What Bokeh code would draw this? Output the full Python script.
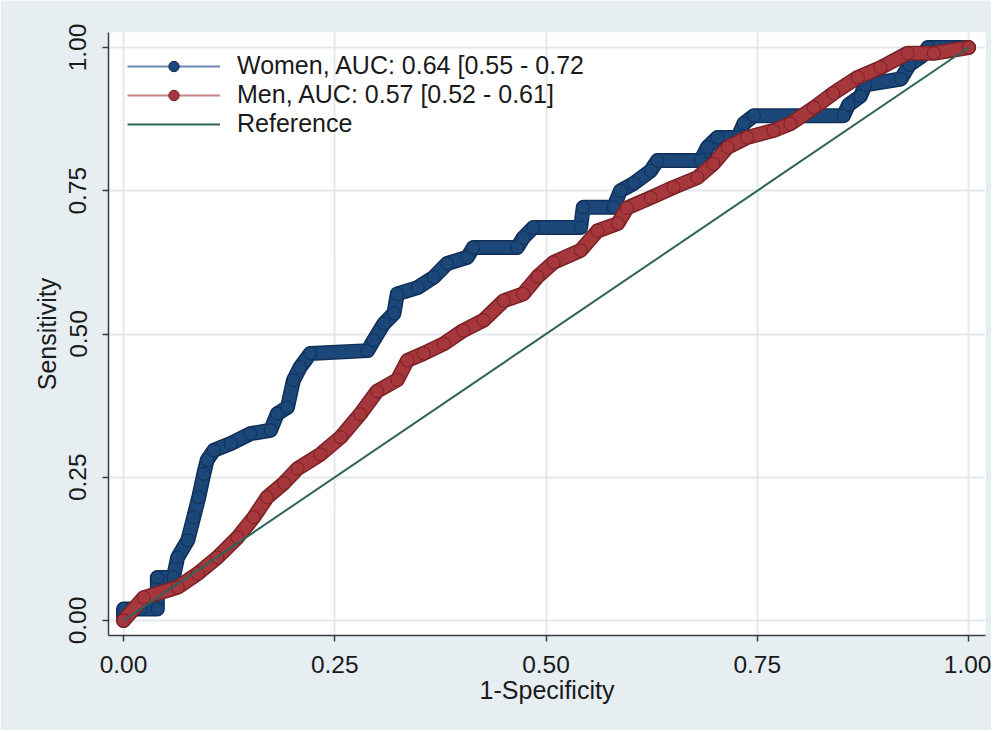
from bokeh.plotting import figure
from bokeh.models import Range1d, FixedTicker, Legend, LegendItem, NumeralTickFormatter
from bokeh.embed import file_html
from bokeh.resources import INLINE

# ---- data ----
women_fpr = [0.0, 0.0, 0.02, 0.04, 0.04, 0.059, 0.064, 0.076, 0.083, 0.089, 0.095, 0.099,
             0.107, 0.127, 0.15, 0.174, 0.182, 0.194, 0.201, 0.209, 0.221, 0.289, 0.296,
             0.308, 0.32, 0.324, 0.348, 0.367, 0.383, 0.407, 0.414, 0.466, 0.473, 0.485,
             0.541, 0.544, 0.58, 0.588, 0.604, 0.624, 0.632, 0.683, 0.691, 0.703, 0.727,
             0.734, 0.746, 0.852, 0.858, 0.872, 0.878, 0.92, 0.93, 0.945, 0.952, 1.0]
women_tpr = [0.0, 0.02, 0.02, 0.02, 0.075, 0.075, 0.11, 0.14, 0.18, 0.215, 0.256, 0.28,
             0.297, 0.309, 0.326, 0.332, 0.361, 0.372, 0.419, 0.442, 0.466, 0.471, 0.489,
             0.518, 0.536, 0.57, 0.581, 0.599, 0.623, 0.634, 0.651, 0.651, 0.668, 0.686,
             0.686, 0.721, 0.721, 0.75, 0.763, 0.785, 0.803, 0.803, 0.826, 0.843, 0.843,
             0.867, 0.881, 0.881, 0.90, 0.915, 0.935, 0.945, 0.97, 0.985, 1.0, 1.0]

men_fpr = [0.0, 0.024, 0.064, 0.088, 0.111, 0.135, 0.154, 0.17, 0.19, 0.206, 0.233, 0.257,
           0.28, 0.30, 0.324, 0.336, 0.355, 0.379, 0.402, 0.426, 0.45, 0.473, 0.49, 0.509,
           0.541, 0.561, 0.585, 0.596, 0.624, 0.651, 0.679, 0.698, 0.715, 0.738, 0.769,
           0.789, 0.817, 0.84, 0.869, 0.896, 0.928, 0.959, 1.0]
men_tpr = [0.0, 0.04, 0.058, 0.082, 0.11, 0.145, 0.18, 0.215, 0.24, 0.265, 0.29, 0.32,
           0.36, 0.40, 0.42, 0.454, 0.466, 0.483, 0.506, 0.524, 0.558, 0.57, 0.60, 0.625,
           0.646, 0.68, 0.693, 0.72, 0.738, 0.756, 0.773, 0.797, 0.826, 0.843, 0.855,
           0.867, 0.895, 0.92, 0.948, 0.965, 0.99, 0.99, 1.0]

ref_x = [0.0, 1.0]
ref_y = [0.0, 1.0]

ticks = [0.0, 0.25, 0.5, 0.75, 1.0]
labels = ["Women, AUC: 0.64 [0.55 - 0.72", "Men, AUC: 0.57 [0.52 - 0.61]", "Reference"]

FONT = "Liberation Sans"
BG = "#e7eef1"

p = figure(width=991, height=730, output_backend="svg", toolbar_location=None,
           x_range=Range1d(-0.0178, 1.0201), y_range=Range1d(-0.0262, 1.0262),
           min_border_left=108, min_border_right=6, min_border_top=32, min_border_bottom=95,
           x_axis_label="1-Specificity", y_axis_label="Sensitivity")
p.border_fill_color = BG
p.background_fill_color = "white"
p.outline_line_color = None

for ax in (p.xaxis[0], p.yaxis[0]):
    ax.ticker = FixedTicker(ticks=ticks)
    ax.formatter = NumeralTickFormatter(format="0.00")
    ax.axis_line_color = "#3c3c3c"
    ax.axis_line_width = 1.5
    ax.major_tick_line_color = "#3c3c3c"
    ax.major_tick_line_width = 1.5
    ax.major_tick_out = 6
    ax.major_tick_in = 0
    ax.minor_tick_line_color = None
    ax.major_label_text_font = FONT
    ax.major_label_text_font_size = "24.5px"
    ax.major_label_text_color = "#1a1a1a"
    ax.axis_label_text_font = FONT
    ax.axis_label_text_font_size = "25px"
    ax.axis_label_text_font_style = "normal"
    ax.axis_label_text_color = "#1a1a1a"

p.yaxis.major_label_orientation = "vertical"
p.xaxis.major_label_standoff = 14
p.yaxis.major_label_standoff = 16
p.xaxis.axis_label_standoff = 0
p.yaxis.axis_label_standoff = 6

for g in (p.xgrid[0], p.ygrid[0]):
    g.ticker = FixedTicker(ticks=ticks)
    g.grid_line_color = "#e4e8ea"
    g.grid_line_width = 2

# Women (navy)
w_leg = p.line(women_fpr, women_tpr, line_color="#6d88ad", line_width=2)
p.line(women_fpr, women_tpr, line_color="#10305a", line_width=15,
       line_join="round", line_cap="round")
p.line(women_fpr, women_tpr, line_color="#1b4879", line_width=12,
       line_join="round", line_cap="round")
w_pts = p.scatter(women_fpr, women_tpr, size=13, fill_color="#1b4879",
                  line_color="#10305a", line_width=1)

# Men (maroon)
m_leg = p.line(men_fpr, men_tpr, line_color="#c98086", line_width=2)
p.line(men_fpr, men_tpr, line_color="#7a2226", line_width=15,
       line_join="round", line_cap="round")
m_pts_line = p.line(men_fpr, men_tpr, line_color="#a5373d", line_width=12,
                    line_join="round", line_cap="round")
m_pts = p.scatter(men_fpr, men_tpr, size=13, fill_color="#a5373d",
                  line_color="#7a2226", line_width=1)

# Reference diagonal
r_line = p.line(ref_x, ref_y, line_color="#2e6558", line_width=2)

legend = Legend(items=[
    LegendItem(label=labels[0], renderers=[w_leg, w_pts]),
    LegendItem(label=labels[1], renderers=[m_leg, m_pts]),
    LegendItem(label=labels[2], renderers=[r_line]),
], location="top_left")
legend.margin = 0
legend.padding = 19
legend.spacing = 0
legend.glyph_width = 93
legend.glyph_height = 26
legend.label_height = 26
legend.label_standoff = 17
legend.label_text_font = FONT
legend.label_text_font_size = "25px"
legend.label_text_color = "#1a1a1a"
legend.border_line_alpha = 0
legend.background_fill_alpha = 0
p.add_layout(legend, "center")

open("out.html", "w").write(file_html(p, INLINE))
